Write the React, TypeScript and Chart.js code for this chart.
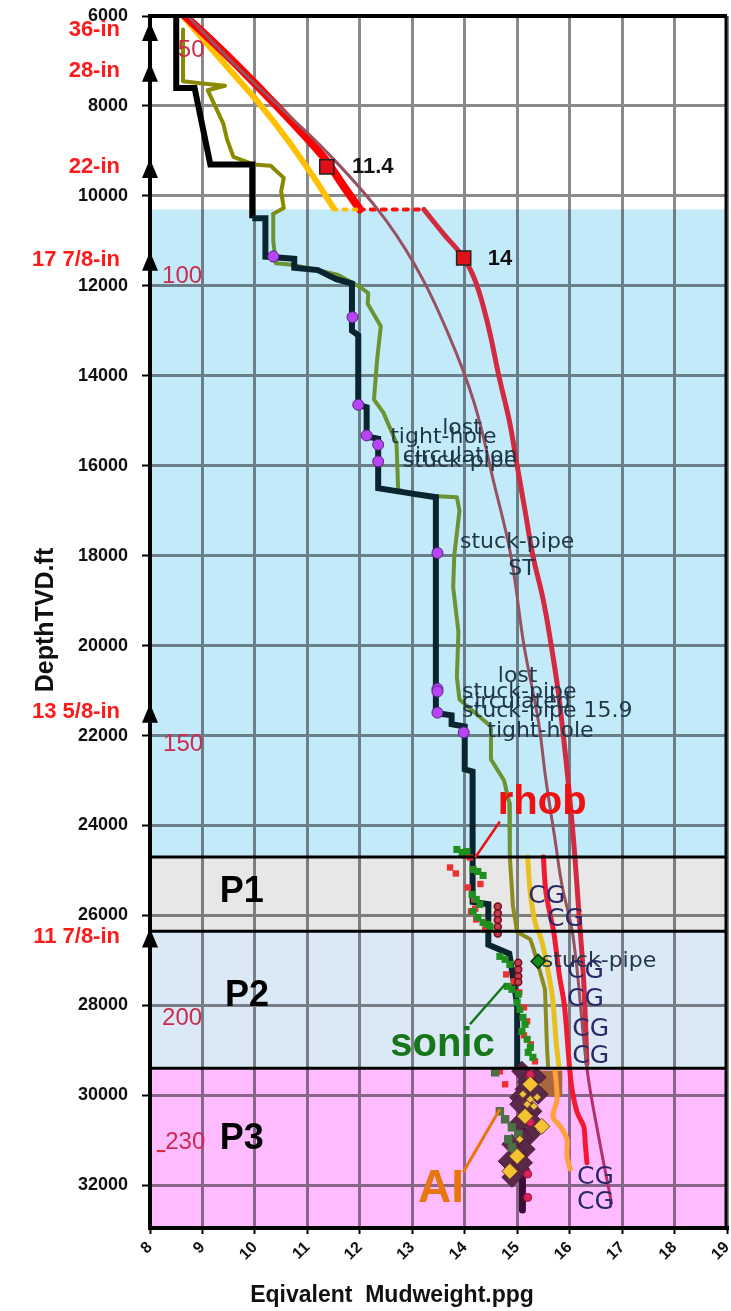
import React, { useEffect, useRef } from 'react';
import { Chart, registerables } from 'chart.js';
Chart.register(...registerables);

type P = [number, number];

// ---------- axis ----------
const ppgMin = 8;
const ppgMax = 19;
const depthMin = 6000;
const depthMax = 32950;
const depthTicks = [6000, 8000, 10000, 12000, 14000, 16000, 18000, 20000, 22000, 24000, 26000, 28000, 30000, 32000];
const ppgTicks = [8, 9, 10, 11, 12, 13, 14, 15, 16, 17, 18, 19];

// ---------- zones (depth ft) ----------
const zoneTop = [10300, 24700, 26350, 29400];
const zoneBottom = [24700, 26350, 29400, 32950];
const zoneName = ['', 'P1', 'P2', 'P3'];
const zoneLabelAt: P[] = [[0, 0], [9.33, 25470], [9.43, 27800], [9.33, 30980]];
const boxLines = [24700, 26350, 29400];

// ---------- lines (ppg, depth) ----------
const mudWeight: P[] = [
  [8.5, 6000], [8.5, 7600], [8.85, 7600], [9.15, 9300], [9.95, 9300], [9.95, 10500], [10.2, 10500], [10.2, 11350],
  [10.75, 11400], [10.75, 11600], [11.2, 11650], [11.55, 11850], [11.85, 11950], [11.85, 13000], [11.97, 13100],
  [11.97, 14650], [12.13, 14700], [12.13, 15350], [12.35, 15400], [12.35, 16500], [13.0, 16620], [13.45, 16700],
  [13.45, 21500], [13.75, 21550], [13.75, 21750], [14.0, 21800], [14.0, 22750], [14.15, 22800], [14.15, 25700],
  [14.45, 25750], [14.45, 26650], [14.85, 26850], [14.95, 27600], [15.0, 28000], [15.0, 29400],
];
const mudWeightP3: P[] = [[15.1, 29400], [15.1, 32550]];

const porePressure: P[] = [
  [8.63, 6300], [8.63, 7450], [9.0, 7500], [9.43, 7550], [9.1, 7650], [9.2, 7900], [9.28, 8100], [9.4, 8400],
  [9.47, 8750], [9.59, 9130], [9.97, 9300], [10.3, 9330], [10.55, 9600], [10.5, 9900], [10.55, 10270],
  [10.35, 10400], [10.35, 11000], [10.4, 11500], [10.7, 11530], [11.2, 11650], [11.57, 11750], [12.0, 12020],
  [12.16, 12160], [12.15, 12400], [12.4, 12900], [12.33, 13640], [12.27, 14530], [12.45, 14820], [12.7, 15500],
  [12.73, 16530], [13.0, 16650], [13.85, 16700], [13.9, 17000], [13.8, 18000], [13.78, 18700], [13.88, 19700],
  [13.85, 20700], [13.9, 21200], [14.5, 21800], [14.5, 22530], [14.75, 23000], [14.85, 23500], [14.86, 24700],
  [14.92, 25800], [15.0, 26370], [15.25, 26530], [15.3, 26700], [15.44, 27270], [15.53, 27640], [15.57, 28980],
  [15.59, 29350],
];

const fracUpper: P[] = [[8.63, 6000], [9.47, 7130], [10.05, 7900], [10.62, 8750], [11.1, 9550], [11.5, 10270]];
const fracUpperDots: P[] = [[11.5, 10300], [12.0, 10300]];
const overburdenUpper: P[] = [[8.67, 6000], [9.4, 6800], [10.25, 7800], [10.9, 8600], [11.35, 9200], [11.7, 9800], [12.0, 10300]];
const overburdenDots: P[] = [[12.0, 10300], [13.22, 10300]];
const fracCurve: P[] = [
  [13.22, 10300], [13.6, 10850], [13.98, 11380], [14.22, 11950], [14.45, 12900], [14.65, 14000], [14.85, 15000],
  [15.0, 16000], [15.15, 17000], [15.3, 18000], [15.5, 19000], [15.65, 20000], [15.78, 21000], [15.88, 22000],
  [15.97, 23000], [16.05, 24000], [16.1, 24700], [16.18, 26000], [16.27, 27500], [16.33, 29300],
];
const overburdenCurve: P[] = [
  [8.72, 6000], [9.55, 7000], [10.45, 8000], [11.35, 9000], [12.34, 10300], [13.03, 11500], [13.68, 13050],
  [14.18, 14600], [14.56, 16400], [14.88, 18000], [15.13, 20000], [15.4, 21650], [15.55, 23000], [15.72, 24300],
  [15.85, 25300], [16.07, 26500], [16.33, 29400], [16.55, 30900], [16.8, 32400],
];
const fracLower: P[] = [
  [15.2, 24700], [15.25, 25500], [15.35, 26200], [15.45, 26500], [15.55, 27000], [15.67, 27800], [15.75, 28900], [15.8, 29400],
];
const aiTrend: P[] = [
  [15.72, 29420], [15.76, 30090], [15.68, 30470], [15.82, 30690], [15.95, 30980], [15.95, 31350], [16.01, 31640],
];
const rhobTrend: P[] = [
  [15.5, 24700], [15.55, 25500], [15.7, 26400], [15.8, 27300], [15.9, 28000], [16.0, 29400], [16.05, 29900],
  [16.15, 30400], [16.27, 30700], [16.3, 31100], [16.33, 31500],
];
// shale block: [ppg left, ppg right], [depth top, depth bottom]
const shaleBlockPpg: P = [15.44, 15.86];
const shaleBlockDepth: P = [29450, 30020];

// ---------- points ----------
const sonicPts: P[] = [
  [13.85, 24533], [13.95, 24600], [14.04, 24578], [14.16, 24978], [14.25, 25022], [14.35, 25111], [14.14, 25533],
  [14.22, 25644], [14.29, 25755], [14.16, 25911], [14.25, 26044], [14.35, 26155], [14.43, 26200], [14.48, 26244],
  [14.67, 26911], [14.77, 26977], [14.86, 27088], [14.81, 27577], [14.9, 27644], [15.02, 27755], [15.0, 27933],
  [15.05, 28089], [15.11, 28266], [15.15, 28422], [15.09, 28577], [15.19, 28755], [15.25, 28933], [15.21, 29044],
  [15.3, 29155],
];
const sonicP3: P[] = [
  [14.58, 29488], [14.67, 30355], [14.77, 30533], [14.9, 30711], [15.02, 30866], [14.83, 30977], [14.9, 31155], [14.96, 31311],
];
const rhobPts: P[] = [
  [13.72, 24933], [13.83, 25066], [14.0, 24666], [14.1, 24711], [14.06, 25378], [14.18, 25644], [14.12, 25911],
  [14.22, 26089], [14.39, 26311], [14.79, 27311], [14.94, 27466], [15.04, 27711], [15.13, 28044], [15.19, 28355],
  [15.13, 28666], [15.26, 28866], [15.34, 29244], [14.67, 29466], [14.77, 29755], [14.3, 25300], [14.2, 25850],
];
const densityCircles: P[] = [
  [14.63, 25800], [14.63, 25950], [14.63, 26100], [14.63, 26250], [14.63, 26400],
  [15.02, 27050], [15.02, 27200], [15.02, 27350], [15.02, 27480],
];
const p3Dots: P[] = [[15.25, 29540], [15.25, 30600], [15.2, 31750], [15.2, 32270]];
const darkDiamonds: P[] = [
  [15.09, 29466], [15.36, 29600], [15.2, 29700], [15.15, 29866], [15.4, 29977], [15.05, 30050], [15.05, 30200],
  [15.28, 30355], [15.15, 30500], [15.02, 30644], [15.3, 30600], [15.25, 30866], [15.1, 30950], [14.9, 31089],
  [15.15, 31200], [15.0, 31300], [14.83, 31466], [15.05, 31644], [14.9, 31822], [15.1, 31500],
];
const aiDiamonds: P[] = [[15.25, 29755], [15.15, 30466], [15.47, 30689], [15.0, 31355], [14.86, 31689]];
const aiSmall: P[] = [[15.11, 29977], [15.25, 30089], [15.38, 30044], [15.19, 30200], [15.32, 30244], [15.05, 30977]];
const eventDots: P[] = [
  [10.35, 11348], [11.86, 12696], [11.97, 14644], [12.13, 15326], [12.35, 15533], [12.35, 15904],
  [13.48, 17940], [13.48, 20960], [13.48, 21020], [13.48, 21490], [13.98, 21930],
];
const stuckDiamond: P[] = [[15.4, 27020]];
const gradientSquares: P[] = [[11.37, 9356], [13.98, 11380]];

// ---------- texts ----------
const squareText = ['11.4', '14'];
const squareTextAt: P[] = [[11.85, 9360], [14.44, 11400]];
const eventText = ['tight-hole', 'lost', 'circulation', 'stuck-pipe', 'stuck-pipe', 'ST', 'lost', 'stuck-pipe',
  'circulated', 'stuck-pipe 15.9', 'tight-hole', 'stuck-pipe'];
const eventTextAt: P[] = [[12.58, 15360], [13.57, 15160], [12.82, 15800], [12.82, 15910], [13.91, 17710],
  [14.83, 18310], [14.63, 20690], [13.95, 21040], [13.95, 21270], [13.95, 21470], [14.43, 21910], [15.47, 27020]];
const cgAt: P[] = [[15.21, 25580], [15.57, 26090], [15.95, 27240], [15.95, 27870], [16.05, 28530], [16.05, 29130],
  [16.14, 31820], [16.14, 32380]];
const tempText = ['50', '100', '150', '200', '230'];
const tempAt: P[] = [[8.53, 6760], [8.23, 11780], [8.25, 22200], [8.23, 28290], [8.29, 31040]];
const casingText = ['36-in', '28-in', '22-in', '17 7/8-in', '13 5/8-in', '11 7/8-in'];
const casingDepth = [6310, 7220, 9360, 11420, 21470, 26470];
const logText = ['rhob', 'sonic', 'AI'];
const logTextAt: P[] = [[14.63, 23490], [12.58, 28890], [13.11, 32090]];
const logPointer: P[][] = [[[14.67, 23910], [14.2, 24710]], [[14.1, 28420], [14.77, 27530]], [[13.97, 31710], [14.67, 30310]]];
const xTitle = 'Eqivalent  Mudweight.ppg';
const yTitle = 'DepthTVD.ft';

// ---------- styles ----------
const ARIAL = '"Liberation Sans", Arial, sans-serif';
const DEJAVU = '"DejaVu Sans", Verdana, sans-serif';
const zoneColors = ['#c3eaf9', '#e7e7e7', '#dbe8f5', '#ffbbff'];
const logColors = ['#ee1111', '#15761a', '#e8760e'];

const xy = (a: P[]) => a.map(([x, y]) => ({ x, y }));

const lineDs = (data: P[], color: string, width: number, order: number, extra: any = {}) => ({
  data: xy(data), showLine: true, borderColor: color, borderWidth: width, pointRadius: 0,
  fill: false, tension: 0, order, borderJoinStyle: 'round', borderCapStyle: 'round', ...extra,
});
const ptDs = (data: P[], style: string, r: number, bg: string, bd: string, bw: number, order: number) => ({
  data: xy(data), showLine: false, pointStyle: style, pointRadius: r, backgroundColor: bg,
  borderColor: bd, borderWidth: bw, order,
});

const overlay = {
  id: 'overlay',
  beforeDatasetsDraw(chart: any) {
    const { ctx, chartArea: a, scales } = chart;
    const X = (v: number) => scales.x.getPixelForValue(v);
    const Y = (v: number) => scales.y.getPixelForValue(v);
    ctx.save();
    ctx.beginPath();
    ctx.rect(a.left, a.top, a.right - a.left, a.bottom - a.top);
    ctx.clip();
    ctx.globalCompositeOperation = 'multiply';
    zoneTop.forEach((t, i) => {
      const y1 = Y(t);
      const y2 = Y(zoneBottom[i]);
      ctx.fillStyle = zoneColors[i];
      ctx.fillRect(a.left, y1, a.right - a.left, y2 - y1);
    });
    ctx.globalCompositeOperation = 'source-over';
    ctx.fillStyle = '#a8683c';
    const bx1 = X(shaleBlockPpg[0]);
    const bx2 = X(shaleBlockPpg[1]);
    const by1 = Y(shaleBlockDepth[0]);
    const by2 = Y(shaleBlockDepth[1]);
    ctx.fillRect(bx1, by1, bx2 - bx1, by2 - by1);
    ctx.restore();
  },
  afterDatasetsDraw(chart: any) {
    const { ctx, chartArea: a, scales } = chart;
    const X = (v: number) => scales.x.getPixelForValue(v);
    const Y = (v: number) => scales.y.getPixelForValue(v);
    ctx.save();
    ctx.strokeStyle = '#000';
    ctx.lineWidth = 3;
    boxLines.forEach((d) => {
      ctx.beginPath();
      ctx.moveTo(a.left, Y(d));
      ctx.lineTo(a.right, Y(d));
      ctx.stroke();
    });
    ctx.lineWidth = 4;
    ctx.beginPath();
    ctx.moveTo(a.left - 2, a.top);
    ctx.lineTo(a.right, a.top);
    ctx.stroke();
    ctx.lineWidth = 3;
    ctx.beginPath();
    ctx.moveTo(a.right - 1, a.top);
    ctx.lineTo(a.right - 1, a.bottom);
    ctx.stroke();

    const text = (s: string, x: number, y: number, font: string, color: string, align: CanvasTextAlign = 'left') => {
      ctx.font = font;
      ctx.fillStyle = color;
      ctx.textAlign = align;
      ctx.textBaseline = 'middle';
      ctx.fillText(s, x, y);
    };

    logPointer.forEach((seg, i) => {
      ctx.strokeStyle = logColors[i];
      ctx.lineWidth = i === 2 ? 3 : 2.5;
      ctx.beginPath();
      ctx.moveTo(X(seg[0][0]), Y(seg[0][1]));
      ctx.lineTo(X(seg[1][0]), Y(seg[1][1]));
      ctx.stroke();
    });

    zoneName.forEach((n, i) => {
      if (!n) return;
      text(n, X(zoneLabelAt[i][0]), Y(zoneLabelAt[i][1]), `bold 36px ${ARIAL}`, '#000');
    });
    tempText.forEach((s, i) => text(s, X(tempAt[i][0]), Y(tempAt[i][1]), `24px ${ARIAL}`, '#cc2b4f'));
    ctx.strokeStyle = '#e0202a';
    ctx.lineWidth = 2;
    ctx.beginPath();
    ctx.moveTo(X(8.13), Y(31240));
    ctx.lineTo(X(8.29), Y(31240));
    ctx.stroke();

    squareText.forEach((s, i) => text(s, X(squareTextAt[i][0]), Y(squareTextAt[i][1]), `bold 22px ${ARIAL}`, '#111'));
    eventText.forEach((s, i) => text(s, X(eventTextAt[i][0]), Y(eventTextAt[i][1]), `22px ${DEJAVU}`, '#1e3646'));
    cgAt.forEach(([x, d]) => text('CG', X(x), Y(d), `25px ${DEJAVU}`, '#2a2868'));
    logText.forEach((s, i) => text(s, X(logTextAt[i][0]), Y(logTextAt[i][1]), `bold ${i === 2 ? 46 : 40}px ${ARIAL}`, logColors[i]));
    ctx.restore();
  },
  afterDraw(chart: any) {
    const { ctx, chartArea: a, scales } = chart;
    const Y = (v: number) => scales.y.getPixelForValue(v);
    ctx.save();
    casingDepth.forEach((d, i) => {
      const y = Y(d);
      ctx.fillStyle = '#000';
      ctx.beginPath();
      ctx.moveTo(a.left, y - 8);
      ctx.lineTo(a.left + 8, y + 11);
      ctx.lineTo(a.left - 8, y + 11);
      ctx.closePath();
      ctx.fill();
      ctx.font = `bold 22px ${ARIAL}`;
      ctx.fillStyle = '#ff1a1a';
      ctx.textAlign = 'right';
      ctx.textBaseline = 'middle';
      ctx.fillText(casingText[i], a.left - 30, y);
    });
    ctx.fillStyle = '#111';
    ctx.font = `bold 23px ${ARIAL}`;
    ctx.textAlign = 'center';
    ctx.textBaseline = 'middle';
    ctx.fillText(xTitle, 392, 1296);
    ctx.translate(46, 620);
    ctx.rotate(-Math.PI / 2);
    ctx.font = `bold 25px ${ARIAL}`;
    ctx.fillText(yTitle, 0, 0);
    ctx.restore();
  },
};

export default function App() {
  const ref = useRef<HTMLCanvasElement>(null);
  useEffect(() => {
    document.body.style.margin = '0';
    const canvas = ref.current;
    if (!canvas) return;
    const blackSeg = (c: any) => (c.p0.parsed.y < 10300 ? '#000000' : '#0a2430');
    const oliveSeg = (c: any) => (c.p0.parsed.y < 10300 ? '#8a8a00' : c.p0.parsed.y < 24700 ? '#6b9332' : '#8c8c1e');
    const brownSeg = (c: any) => (c.p0.parsed.y < 29400 ? '#975262' : '#b5306a');

    const datasets: any[] = [
      ptDs(eventDots, 'circle', 5.5, '#b545f5', '#5a2080', 1, 1),
      ptDs(gradientSquares, 'rect', 10, '#e0101a', '#222', 1.5, 2),
      ptDs(stuckDiamond, 'rectRot', 7, '#1a8a1a', '#003300', 1.5, 3),
      ptDs(aiDiamonds, 'rectRot', 8, '#f5c232', '#6a4a20', 1, 4),
      ptDs(aiSmall, 'rectRot', 4, '#f0c040', '#6a4a20', 1, 5),
      ptDs(p3Dots, 'circle', 4, '#e0205a', '#a01040', 1, 6),
      ptDs(densityCircles, 'circle', 3.5, '#c04050', '#7a0a1a', 1.5, 7),
      ptDs(darkDiamonds, 'rectRot', 10, '#5a2848', '#4a1838', 1, 9),
      ptDs(sonicP3, 'rect', 6, '#4a7044', '#4a7044', 0, 8),
      ptDs(sonicPts, 'rect', 5, '#1f901f', '#1f901f', 0, 10),
      ptDs(rhobPts, 'rect', 4.5, '#ee3030', '#ee3030', 0, 11),
      lineDs(mudWeightP3, '#3a0c36', 7, 12),
      lineDs(mudWeight, '#000', 6, 13, { segment: { borderColor: blackSeg }, borderJoinStyle: 'miter', borderCapStyle: 'butt' }),
      lineDs(porePressure, '#7d9128', 4, 14, { segment: { borderColor: oliveSeg } }),
      lineDs(aiTrend, '#ffa03c', 5, 16, { tension: 0.3 }),
      lineDs(fracLower, '#e8c020', 5, 17, { tension: 0.3 }),
      lineDs(rhobTrend, '#f21a30', 5, 18, { tension: 0.3 }),
      lineDs(overburdenCurve, '#975262', 3, 19, { tension: 0.4, segment: { borderColor: brownSeg } }),
      lineDs(fracCurve, '#d22a40', 5, 20, { tension: 0.4 }),
      lineDs(overburdenDots, '#ff1010', 4, 21, { borderDash: [4, 7], borderCapStyle: 'round' }),
      lineDs(fracUpperDots, '#ffc000', 4, 22, { borderDash: [3, 7], borderCapStyle: 'round' }),
      lineDs(overburdenUpper, '#ff0000', 8, 23, { tension: 0.3 }),
      lineDs(fracUpper, '#ffc000', 6, 24, { tension: 0.3 }),
    ];

    const chart = new Chart(canvas, {
      type: 'scatter',
      data: { datasets },
      plugins: [overlay],
      options: {
        responsive: false,
        animation: false,
        events: [],
        layout: { autoPadding: false, padding: { top: 16, right: 4, left: 0, bottom: 0 } },
        plugins: { legend: { display: false }, tooltip: { enabled: false } },
        scales: {
          x: {
            type: 'linear', min: ppgMin, max: ppgMax,
            afterBuildTicks: (s: any) => { s.ticks = ppgTicks.map((v) => ({ value: v })); },
            afterFit: (s: any) => { s.height = 83; s.paddingLeft = 0; s.paddingRight = 0; },
            border: { display: true, color: '#000', width: 4 },
            grid: { color: '#8a8a8a', lineWidth: 3, tickColor: '#000', tickLength: 6, tickWidth: 2 },
            ticks: {
              minRotation: 45, maxRotation: 45, padding: 4, color: '#111',
              font: { family: ARIAL, size: 16, weight: 'bold' }, callback: (v: any) => String(v),
            },
          },
          y: {
            type: 'linear', min: depthMin, max: depthMax, reverse: true,
            afterBuildTicks: (s: any) => { s.ticks = depthTicks.map((v) => ({ value: v })); },
            afterFit: (s: any) => { s.width = 150; s.paddingTop = 0; s.paddingBottom = 0; },
            border: { display: true, color: '#000', width: 4 },
            grid: { color: '#8a8a8a', lineWidth: 3, tickColor: '#000', tickLength: 8, tickWidth: 2 },
            ticks: {
              padding: 14, color: '#111',
              font: { family: ARIAL, size: 18, weight: 'bold' }, callback: (v: any) => String(v),
            },
          },
        },
      } as any,
    });
    return () => chart.destroy();
  }, []);
  return (
    <div style={{ width: 731, height: 1311, position: 'relative', background: '#fff' }}>
      <canvas ref={ref} width={731} height={1311} style={{ display: 'block' }} />
    </div>
  );
}
